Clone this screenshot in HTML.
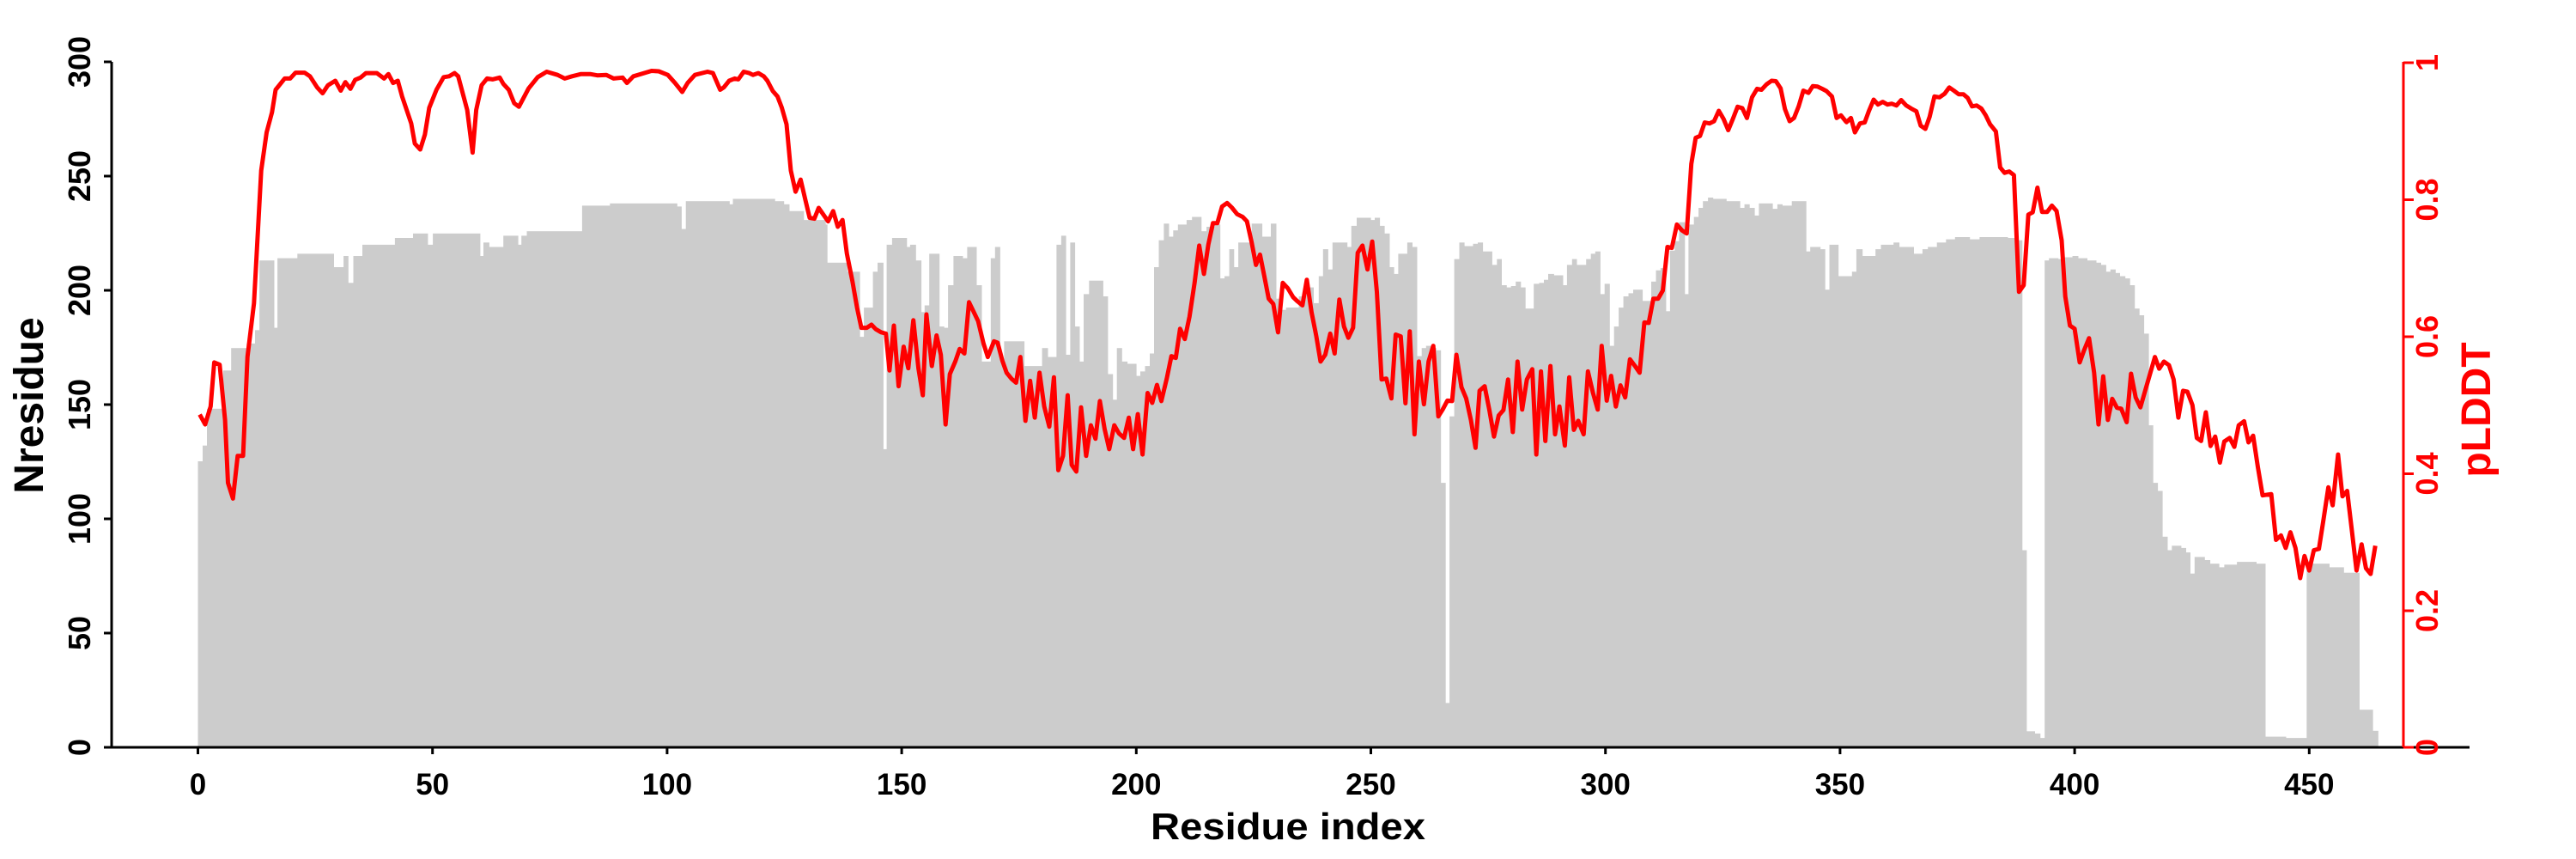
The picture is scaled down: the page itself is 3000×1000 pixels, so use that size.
<!DOCTYPE html>
<html><head><meta charset="utf-8"><style>
html,body{margin:0;padding:0;background:#fff;}
svg{display:block;}
text{font-family:"Liberation Sans",Arial,sans-serif;font-weight:bold;}
</style></head><body>
<svg id="s" width="3000" height="1000" viewBox="0 0 3000 1000" xmlns="http://www.w3.org/2000/svg">
<g id="bars" fill="#cccccc"></g>
<polyline id="ln" fill="none" stroke="#ff0000" stroke-width="5" stroke-linejoin="round" points=""/>
<line x1="130" y1="72" x2="130" y2="871.5" stroke="#000" stroke-width="3"/>
<g stroke="#000" stroke-width="3">
<line x1="121" y1="870" x2="130" y2="870"/><line x1="121" y1="737" x2="130" y2="737"/><line x1="121" y1="604" x2="130" y2="604"/><line x1="121" y1="471" x2="130" y2="471"/><line x1="121" y1="338" x2="130" y2="338"/><line x1="121" y1="205" x2="130" y2="205"/><line x1="121" y1="72" x2="130" y2="72"/>
</g>
<g font-size="36" text-anchor="middle" fill="#000">
<text transform="translate(105,870) rotate(-90)">0</text>
<text transform="translate(105,737) rotate(-90)">50</text>
<text transform="translate(105,604) rotate(-90)">100</text>
<text transform="translate(105,471) rotate(-90)">150</text>
<text transform="translate(105,338) rotate(-90)">200</text>
<text transform="translate(105,205) rotate(-90)">250</text>
<text transform="translate(105,72) rotate(-90)">300</text>
</g>
<text transform="translate(50,472) rotate(-90)" font-size="48" text-anchor="middle" fill="#000">Nresidue</text>
<line x1="128.5" y1="870" x2="2876" y2="870" stroke="#000" stroke-width="3"/>
<g id="bt" stroke="#000" stroke-width="3"></g>
<g id="bl" font-size="35" text-anchor="middle" fill="#000"></g>
<text x="1500" y="977" font-size="44" text-anchor="middle" textLength="320" lengthAdjust="spacingAndGlyphs" fill="#000">Residue index</text>
<line x1="2799" y1="72" x2="2799" y2="870" stroke="#ff0000" stroke-width="3"/>
<g stroke="#ff0000" stroke-width="3">
<line x1="2799" y1="870" x2="2811" y2="870"/><line x1="2799" y1="711" x2="2811" y2="711"/><line x1="2799" y1="551.5" x2="2811" y2="551.5"/><line x1="2799" y1="392" x2="2811" y2="392"/><line x1="2799" y1="232.5" x2="2811" y2="232.5"/><line x1="2799" y1="73" x2="2811" y2="73"/>
</g>
<g font-size="36" text-anchor="middle" fill="#ff0000">
<text transform="translate(2839,870) rotate(-90)">0</text>
<text transform="translate(2839,711) rotate(-90)">0.2</text>
<text transform="translate(2839,551.5) rotate(-90)">0.4</text>
<text transform="translate(2839,392) rotate(-90)">0.6</text>
<text transform="translate(2839,232.5) rotate(-90)">0.8</text>
<text transform="translate(2839,73) rotate(-90)">1</text>
</g>
<text transform="translate(2900,477) rotate(-90)" font-size="48" text-anchor="middle" fill="#ff0000">pLDDT</text>
</svg>
<script>
(function(){
var S=0.4209,V=0.523;
var bars=[
[220,[[25,38,912],[38,50,877],[50,95,795],[95,117,710],[117,160,660],[160,183,650],[183,195,620],[195,235,465],[235,245,615],[245,300,460],[300,400,450],[400,428,480],[428,440,455],[440,455,515],[455,480,455],[480,570,430],[570,620,415],[620,660,405],[660,675,430],[675,805,405],[805,815,455],[815,830,425],[830,870,435],[870,910,410],[910,920,430],[920,935,410],[935,1088,400],[1088,1165,343],[1165,1350,338],[1350,1362,345],[1362,1375,395],[1375,1495,333],[1495,1505,340],[1505,1568,328]]],
[860,[[0,100,328],[100,125,333],[125,140,340],[140,180,355],[180,240,375],[240,245,385],[245,300,470],[300,335,490],[335,347,635],[347,372,570],[372,385,490],[385,400,470],[400,410,885],[410,425,430],[425,465,415],[465,475,435],[475,490,430],[490,505,465],[505,515,580],[515,528,565],[528,555,450],[555,568,612],[568,580,615],[580,595,520],[595,620,455],[620,633,460],[633,658,435],[658,672,520],[672,698,690],[698,710,460],[710,723,435],[723,735,690],[735,790,645],[790,840,700],[840,855,660],[855,880,680],[880,893,430],[893,905,410],[905,918,675],[918,930,425],[930,943,612],[943,955,690],[955,970,540],[970,1008,510],[1008,1021,545],[1021,1035,718],[1035,1047,775],[1047,1060,660],[1060,1075,690],[1075,1100,695],[1100,1112,722],[1112,1125,712],[1125,1138,700],[1138,1150,672],[1150,1163,480],[1163,1177,420],[1177,1190,383],[1190,1203,412],[1203,1216,398],[1216,1240,385],[1240,1255,375],[1255,1280,368],[1280,1295,400],[1295,1318,390],[1318,1332,385],[1332,1345,505],[1345,1358,500],[1358,1370,440],[1370,1383,480],[1383,1420,425],[1420,1448,383],[1448,1473,412],[1473,1487,383],[1487,1500,550],[1500,1515,575],[1515,1568,570]]],
[1500,[[0,30,570],[30,45,545],[45,70,525],[70,85,560],[85,97,500],[97,110,440],[110,123,485],[123,163,425],[163,175,435],[175,190,388],[190,228,370],[228,240,375],[240,253,370],[253,266,388],[266,280,405],[280,292,480],[292,305,495],[305,330,450],[330,343,425],[343,356,435],[356,370,678],[370,382,660],[382,396,655],[396,409,660],[409,422,665],[422,435,960],[435,447,1450],[447,460,812],[460,474,462],[474,487,425],[487,512,433],[512,525,428],[525,538,425],[538,564,445],[564,578,475],[578,590,462],[590,604,520],[604,617,525],[617,630,522],[630,643,512],[643,656,525],[656,680,572],[680,695,517],[695,708,515],[708,720,508],[720,735,495],[735,760,498],[760,772,520],[772,786,475],[786,798,462],[798,825,475],[825,838,462],[838,850,450],[850,863,445],[863,876,540],[876,889,517],[889,902,655],[902,915,612],[915,928,570],[928,942,545],[942,955,538],[955,980,530],[980,1005,555],[1005,1018,512],[1018,1031,487],[1031,1045,482],[1045,1057,578],[1057,1070,443],[1070,1082,422],[1082,1097,380],[1097,1108,540],[1108,1123,385],[1123,1136,368],[1136,1148,348],[1148,1162,333],[1162,1175,325],[1175,1212,328],[1212,1250,333],[1250,1263,348],[1263,1276,340],[1276,1290,348],[1290,1303,365],[1303,1340,338],[1340,1354,350],[1354,1367,340],[1367,1394,343],[1394,1433,333],[1433,1445,445],[1445,1472,435],[1472,1485,440],[1485,1498,530],[1498,1522,430],[1522,1548,500],[1548,1568,505]]],
[2140,[[0,40,500],[40,52,490],[52,68,440],[68,105,455],[105,120,440],[120,155,430],[155,170,425],[170,210,435],[210,235,450],[235,250,440],[250,275,435],[275,300,425],[300,325,418],[325,365,413],[365,393,418],[393,470,413],[470,497,415],[497,510,420],[510,522,1110],[522,545,1513],[545,560,1518],[560,573,1528],[573,585,465],[585,610,460],[610,625,462],[625,650,458],[650,665,455],[665,690,460],[690,715,465],[715,728,470],[728,742,475],[742,755,490],[755,768,485],[768,780,493],[780,795,500],[795,808,505],[808,821,520],[821,834,572],[834,847,587],[847,860,628],[860,872,832],[872,885,960],[885,898,978],[898,912,1080],[912,925,1110],[925,950,1100],[950,963,1105],[963,975,1115],[975,988,1162],[988,1015,1125],[1015,1030,1132],[1030,1055,1140],[1055,1070,1148],[1070,1105,1142],[1105,1158,1136],[1158,1183,1140],[1183,1240,1525],[1240,1298,1528],[1298,1360,1140],[1360,1400,1148],[1400,1443,1160],[1443,1480,1465],[1480,1495,1512]]]
];
var g=document.getElementById("bars"),h="";
bars.forEach(function(z){var X0=z[0];z[1].forEach(function(s){
 var x=X0+s[0]*S,w=(s[1]-s[0])*S+0.6,y=60+s[2]*V;
 if(x<230.5){w-= (230.5-x);x=230.5;}
 h+='<rect x="'+x.toFixed(1)+'" y="'+y.toFixed(1)+'" width="'+w.toFixed(1)+'" height="'+(870-y).toFixed(1)+'"/>';
});});
g.innerHTML=h;
var L=[
[220,-1,870,[[30,808],[45,830],[60,790],[70,692],[85,697],[100,820],[108,960],[122,995],[135,900],[150,900],[162,680],[180,560],[200,265],[215,180],[230,135],[240,85],[265,60],[280,60],[295,47],[320,47],[335,55],[355,80],[370,93],[385,75],[405,65],[420,87],[433,68],[447,83],[460,63],[475,58],[490,48],[520,48],[540,60],[552,50],[565,70],[578,65],[590,100],[615,160],[625,205],[640,218],[653,185],[665,125],[685,85],[705,57],[720,55],[735,48],[745,55],[760,100],[770,130],[785,225],[795,130],[810,75],[825,60],[840,62],[860,58],[870,72],[885,85],[900,115],[913,123],[940,82],[965,57],[990,45],[1020,52],[1040,60],[1060,55],[1085,50],[1110,50],[1130,53],[1155,52],[1175,60],[1200,58],[1212,70],[1230,55],[1280,43],[1300,44],[1325,52],[1345,70],[1365,90],[1380,70],[1400,52],[1435,45],[1450,48],[1470,85],[1480,80],[1495,65],[1510,60],[1520,62],[1535,45],[1550,50],[1568,55]]],
[860,870,1510,[[0,60],[15,45],[30,48],[40,52],[55,48],[70,55],[80,65],[95,88],[108,100],[120,125],[133,162],[145,265],[158,312],[172,285],[185,330],[197,370],[210,372],[222,348],[235,363],[248,378],[262,355],[275,390],[288,375],[300,450],[315,510],[328,570],[340,615],[355,615],[368,608],[380,618],[395,625],[408,628],[418,710],[430,610],[443,745],[457,657],[470,705],[484,598],[498,705],[510,765],[520,585],[535,700],[548,632],[560,675],[573,830],[585,718],[600,690],[612,662],[625,672],[638,558],[650,578],[663,600],[678,650],[690,680],[707,645],[717,648],[730,688],[742,715],[755,728],[768,737],[780,680],[794,822],[807,733],[820,815],[833,715],[846,790],[860,835],[873,725],[885,932],[898,900],[911,765],[922,920],[935,935],[948,792],[962,900],[975,832],[988,862],[1000,778],[1013,840],[1026,885],[1040,832],[1053,850],[1067,860],[1080,815],[1092,885],[1105,807],[1118,897],[1132,760],[1145,782],[1158,742],[1170,778],[1185,728],[1198,678],[1210,682],[1222,617],[1235,640],[1248,590],[1262,515],[1275,432],[1288,495],[1300,430],[1313,382],[1325,382],[1338,345],[1352,337],[1365,347],[1380,362],[1395,368],[1407,378],[1420,425],[1432,475],[1443,452],[1455,500],[1467,550],[1480,562],[1493,625],[1506,515],[1520,527],[1535,547],[1558,565],[1568,525]]],
[1500,1510,2150,[[0,520],[12,545],[25,555],[40,565],[52,508],[65,580],[78,632],[90,690],[103,675],[117,628],[129,672],[142,552],[155,612],[167,637],[180,615],[193,448],[206,432],[220,485],[233,423],[246,535],[259,730],[272,728],[286,772],[298,630],[312,634],[325,783],[337,623],[350,852],[362,690],[376,785],[389,690],[402,655],[416,812],[428,797],[441,777],[454,778],[466,675],[480,747],[493,772],[506,820],[519,882],[530,755],[544,745],[557,797],[570,857],[583,810],[596,798],[609,730],[622,847],[635,690],[648,797],[661,730],[676,707],[687,897],[700,712],[712,867],[726,700],[739,852],[751,790],[766,877],[778,725],[791,842],[803,822],[818,852],[830,712],[844,760],[857,797],[868,655],[882,777],[894,722],[907,790],[920,743],[933,770],[946,685],[960,700],[973,715],[986,603],[998,604],[1011,550],[1024,550],[1037,532],[1050,435],[1062,437],[1076,385],[1090,398],[1103,405],[1116,250],[1128,192],[1140,188],[1153,158],[1166,160],[1179,155],[1192,132],[1205,150],[1218,175],[1231,150],[1244,123],[1257,126],[1270,148],[1284,102],[1298,83],[1310,85],[1324,73],[1338,65],[1350,66],[1363,82],[1375,128],[1388,155],[1400,148],[1413,122],[1426,87],[1440,92],[1452,77],[1465,78],[1478,83],[1490,88],[1505,100],[1518,148],[1530,142],[1543,155],[1555,147],[1568,180]]],
[2140,2150,9999,[[0,148],[12,145],[25,157],[37,148],[48,180],[62,160],[75,158],[87,132],[100,107],[112,118],[125,112],[138,118],[150,116],[163,120],[176,108],[190,120],[204,127],[218,133],[230,165],[243,172],[255,145],[268,100],[282,102],[296,94],[309,80],[322,87],[335,95],[348,95],[360,103],[372,122],[385,120],[398,127],[410,142],[422,162],[438,178],[450,258],[462,270],[475,267],[488,275],[502,535],[515,520],[528,363],[540,358],[553,303],[566,357],[580,357],[593,343],[606,355],[620,420],[630,545],[643,610],[656,617],[670,692],[682,665],[696,638],[710,715],[722,830],[735,723],[748,820],[760,773],[773,793],[785,795],[800,825],[812,717],[825,770],[838,792],[850,758],[862,725],[878,680],[890,706],[903,690],[917,698],[930,730],[943,815],[956,755],[968,757],[982,787],[994,860],[1006,867],[1019,803],[1032,878],[1045,857],[1058,915],[1070,868],[1085,860],[1098,880],[1110,832],[1125,823],[1137,870],[1150,855],[1163,925],[1176,988],[1200,985],[1213,1087],[1227,1077],[1240,1105],[1253,1070],[1267,1105],[1280,1172],[1292,1123],[1305,1155],[1318,1110],[1332,1107],[1345,1040],[1358,970],[1370,1010],[1385,897],[1397,990],[1410,978],[1423,1065],[1436,1155],[1450,1097],[1462,1150],[1475,1163],[1488,1100]]]
];
var pts=[];
L.forEach(function(z){var X0=z[0];z[3].forEach(function(p){var x=X0+p[0]*S;if(x>=z[1]&&x<z[2])pts.push(x.toFixed(1)+","+(60+p[1]*V).toFixed(1));});});
document.getElementById("ln").setAttribute("points",pts.join(" "));
var bt="",bl="";
for(var i=0;i<=450;i+=50){var x=230.5+5.464*i;bt+='<line x1="'+x+'" y1="870" x2="'+x+'" y2="878"/>';bl+='<text x="'+x+'" y="925">'+i+'</text>';}
document.getElementById("bt").innerHTML=bt;
document.getElementById("bl").innerHTML=bl;
})();
</script>
</body></html>
